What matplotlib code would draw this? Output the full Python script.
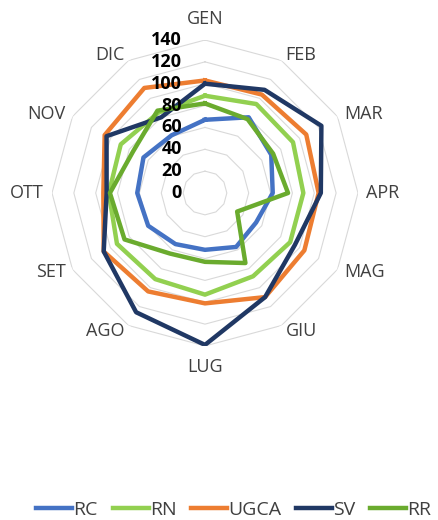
import numpy as np
import matplotlib
matplotlib.use('Agg')
import matplotlib.pyplot as plt

plt.rcParams['font.family'] = ['Open Sans', 'DejaVu Sans']

# dati
months = ['GEN', 'FEB', 'MAR', 'APR', 'MAG', 'GIU', 'LUG', 'AGO', 'SET', 'OTT', 'NOV', 'DIC']
rc = [67, 80, 70, 62, 54, 57, 52, 54, 60, 62, 65, 61]
rn = [89, 94, 93, 90, 90, 88, 93, 91, 93, 88, 89, 85]
ugca = [103, 104, 107, 104, 105, 110, 101, 104, 107, 93, 106, 111]
sv = [100, 109, 123, 106, 95, 110, 139, 126, 107, 90, 104, 80]
rr = [82, 78, 72, 76, 34, 74, 63, 64, 85, 87, 76, 87]
r_ticks = [0, 20, 40, 60, 80, 100, 120, 140]

series = [('RC', rc, '#4472C4'), ('RN', rn, '#92D050'), ('UGCA', ugca, '#ED7D31'),
          ('SV', sv, '#203864'), ('RR', rr, '#6AAB2E')]

n = len(months)
theta = np.arange(n) * 2 * np.pi / n
theta_c = np.append(theta, theta[0])

fig = plt.figure(figsize=(4.38, 5.2), dpi=100)
ax = fig.add_axes([0.1187, 0.3346, 0.6986, 0.5885], projection='polar')
ax.set_theta_zero_location('N')
ax.set_theta_direction(-1)
ax.set_ylim(0, 140)
ax.grid(False)
ax.spines['polar'].set_visible(False)
ax.set_xticks([])
ax.set_yticks([])

# griglia poligonale
for r in r_ticks[1:]:
    ax.plot(theta_c, [r] * (n + 1), color='#D9D9D9', lw=0.8, zorder=1)

for name, vals, col in series:
    ax.plot(theta_c, vals + vals[:1], color=col, lw=3.2, label=name, zorder=3)

# etichette asse radiale
for r in r_ticks:
    ax.annotate(str(r), xy=(0, r), xytext=(-23, 0), textcoords='offset pixels',
                ha='right', va='center', fontsize=13, fontweight='bold',
                color='black', annotation_clip=False, zorder=5)

# etichette mesi
for m, t in zip(months, theta):
    s, c = np.cos(t), np.sin(t)  # s: verso l'alto, c: verso destra
    if abs(c) < 0.1:
        ha = 'center'
        dx, dy = 0, 21 * np.sign(s)
    else:
        ha = 'left' if c > 0 else 'right'
        dx, dy = 8 * c, 6 * s
    ax.annotate(m, xy=(t, 140), xytext=(dx, dy), textcoords='offset pixels',
                ha=ha, va='center', fontsize=13, color='#404040',
                annotation_clip=False)

fig.legend(loc='center', bbox_to_anchor=(0.534, 0.019), ncol=5, frameon=False,
           handlelength=1.85, handletextpad=0.05, columnspacing=0.77,
           fontsize=14, labelcolor='#404040')

fig.savefig('out.png', dpi=100)
